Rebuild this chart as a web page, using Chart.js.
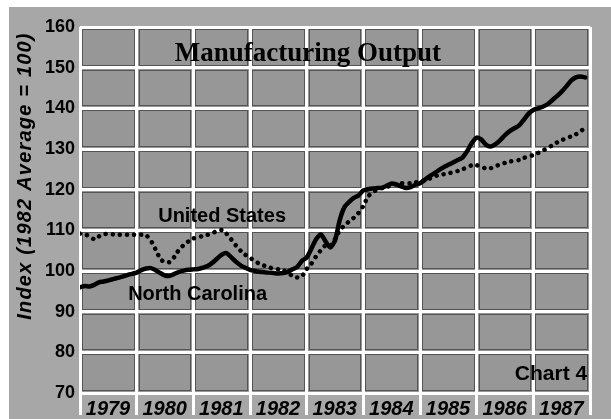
<!DOCTYPE html>
<html><head><meta charset="utf-8">
<script src="https://cdn.jsdelivr.net/npm/chart.js@4/dist/chart.umd.min.js"></script>
<style>html,body{margin:0;padding:0;background:#fff}#wrap{width:611px;height:419px}</style>
</head><body><div id="wrap"><canvas id="c" width="611" height="419"></canvas></div>
<script>
// ---- data (monthly index values, 1982 average = 100) ----
const startYear = 1979;
const yearTicks = [1979,1980,1981,1982,1983,1984,1985,1986,1987,1988];
const valueTicks = [70,80,90,100,110,120,130,140,150,160];
const chartTitle = 'Manufacturing Output';
const axisTitle = 'Index (1982 Average = 100)';
const seriesNames = ['North Carolina','United States'];
const ncValues = [
 96.0,96.3,96.2,96.6,97.2,97.4,97.7,98.0,98.3,98.6,99.0,99.3,
 99.6,100.2,100.6,100.7,100.2,99.5,98.9,98.8,99.3,99.8,100.1,100.3,
 100.4,100.5,100.8,101.2,102.0,103.0,104.0,104.4,103.4,102.3,101.4,100.8,
 100.3,100.0,99.8,99.7,99.6,99.5,99.4,99.5,99.8,100.4,101.0,102.5,
 103.3,105.5,107.8,109.0,107.3,105.8,107.5,112.5,115.7,117.0,118.0,118.6,
 119.8,120.1,120.3,120.4,120.5,121.0,121.5,121.3,120.8,120.4,120.6,121.2,
 121.6,122.4,123.3,124.0,124.8,125.5,126.1,126.7,127.3,127.9,129.5,131.5,
 132.8,132.3,131.0,130.6,131.2,132.2,133.4,134.4,135.1,135.8,137.2,138.7,
 139.6,140.0,140.4,141.0,142.0,143.0,144.1,145.4,146.8,147.6,147.8,147.6
];
const usValues = [
 109.2,109.0,108.6,107.8,108.5,109.1,109.1,109.0,108.9,108.9,108.9,108.9,
 108.9,108.9,108.8,107.5,105.3,103.0,102.1,102.2,103.5,105.3,106.4,107.3,
 108.0,108.3,108.6,108.9,109.3,109.8,110.1,109.2,107.8,106.3,105.0,104.0,
 103.3,102.4,101.8,101.3,100.9,100.6,100.4,100.2,99.6,98.8,98.4,98.7,
 100.5,101.8,103.6,105.1,106.3,106.2,107.8,110.0,111.2,112.2,113.1,114.3,
 116.0,118.3,119.4,120.0,120.4,120.7,121.0,121.4,121.6,121.6,121.6,121.8,
 122.0,122.3,122.7,123.2,123.6,123.8,124.0,124.3,124.6,125.0,125.5,126.0,
 126.0,125.6,125.2,125.3,125.8,126.2,126.6,126.9,127.1,127.3,127.8,128.2,
 128.5,129.0,129.6,130.2,130.9,131.6,132.2,132.6,133.1,133.6,134.4,135.2
];
const toPoints = vals => vals.map((v,i)=>({x: startYear + i/12, y: v}));

// ---- drawing helpers ----
const FONT = '"Liberation Sans", Arial, Helvetica, sans-serif';
const framePlugin = {
  id: 'frame',
  beforeDraw(chart){
    const {ctx, chartArea:a} = chart;
    ctx.save();
    ctx.fillStyle = '#ffffff'; ctx.fillRect(0,0,chart.width,chart.height);
    ctx.fillStyle = '#a7a7a7'; ctx.fillRect(9,7,chart.width-9,chart.height-7);
    ctx.fillStyle = '#979797'; ctx.fillRect(a.left,a.top,a.right-a.left,a.bottom-a.top);
    ctx.restore();
  },
  beforeDatasetsDraw(chart){
    const {ctx, scales:{x,y}} = chart;
    ctx.save();
    ctx.strokeStyle = 'rgba(30,30,30,0.55)'; ctx.lineWidth = 1;
    for (let i=0;i<yearTicks.length-1;i++){
      for (let j=0;j<valueTicks.length-1;j++){
        const x0 = Math.round(x.getPixelForValue(yearTicks[i]))+2;
        const x1 = Math.round(x.getPixelForValue(yearTicks[i+1]))-2;
        const y0 = Math.round(y.getPixelForValue(valueTicks[j+1]))+2;
        const y1 = Math.round(y.getPixelForValue(valueTicks[j]))-2;
        ctx.strokeRect(x0+0.5,y0+0.5,x1-x0-1,y1-y0-1);
      }
    }
    ctx.restore();
  },
  afterDatasetsDraw(chart, args, opts){
    const {ctx, scales:{x,y}} = chart;
    ctx.save();
    ctx.fillStyle = '#000';
    for (const t of opts.items){
      ctx.font = t.font;
      ctx.textAlign = t.align;
      ctx.textBaseline = 'alphabetic';
      ctx.fillText(t.text, x.getPixelForValue(t.x), y.getPixelForValue(t.y));
    }
    // rotated axis title
    const yt = opts.axisTitle;
    ctx.translate(yt.cx, yt.cy);
    ctx.rotate(-Math.PI/2);
    ctx.font = yt.font;
    if ('letterSpacing' in ctx) ctx.letterSpacing = yt.spacing;
    ctx.textAlign = 'center'; ctx.textBaseline = 'middle';
    ctx.fillText(yt.text, 0, 0);
    ctx.restore();
  }
};

new Chart(document.getElementById('c'), {
  type: 'line',
  data: {
    datasets: [
      { label: seriesNames[1], data: toPoints(usValues), borderColor: '#000', borderWidth: 4.5,
        borderDash: [0.1, 7], borderCapStyle: 'round', pointRadius: 0, tension: 0.2, fill: false },
      { label: seriesNames[0], data: toPoints(ncValues), borderColor: '#000', borderWidth: 4.5,
        borderCapStyle: 'round', borderJoinStyle: 'round', pointRadius: 0, tension: 0.25, fill: false }
    ]
  },
  options: {
    responsive: false, animation: false, devicePixelRatio: 1,
    layout: { padding: { left: 0, top: 27, right: 21, bottom: 0 } },
    plugins: {
      legend: { display: false }, tooltip: { enabled: false },
      frame: {
        items: [
          { text: chartTitle, x: 1983.02, y: 151.6, align: 'center', font: 'bold 27px "Liberation Serif", "DejaVu Serif", serif' },
          { text: seriesNames[1], x: 1980.38, y: 112.0, align: 'left', font: 'bold 20px ' + FONT },
          { text: seriesNames[0], x: 1979.85, y: 92.9, align: 'left', font: 'bold 20px ' + FONT },
          { text: 'Chart 4', x: 1987.95, y: 73.2, align: 'right', font: 'bold 21px ' + FONT }
        ],
        axisTitle: { text: axisTitle, cx: 25, cy: 176, font: 'italic bold 20px ' + FONT, spacing: '1.2px' }
      }
    },
    scales: {
      x: {
        type: 'linear', min: 1979, max: 1988,
        afterBuildTicks: s => { s.ticks = yearTicks.map(v => ({value: v})); },
        afterFit: s => { s.height = 26; },
        grid: { color: '#ffffff', lineWidth: 3, drawTicks: true, tickLength: 22, tickColor: '#ffffff', tickWidth: 3 },
        border: { display: false },
        ticks: { color: '#000', padding: -18, labelOffset: 28, maxRotation: 0, autoSkip: false,
          font: { family: FONT, size: 20, weight: 'bold', style: 'italic' },
          callback: v => v < 1988 ? String(v) : '' }
      },
      y: {
        min: 70, max: 160,
        afterBuildTicks: s => { s.ticks = valueTicks.map(v => ({value: v})); },
        afterFit: s => { s.width = 80; },
        grid: { color: '#ffffff', lineWidth: 3, drawTicks: false },
        border: { display: false },
        ticks: { color: '#000', padding: 5, font: { family: FONT, size: 18, weight: 'bold' } }
      }
    }
  },
  plugins: [framePlugin]
});
</script>
</body></html>
